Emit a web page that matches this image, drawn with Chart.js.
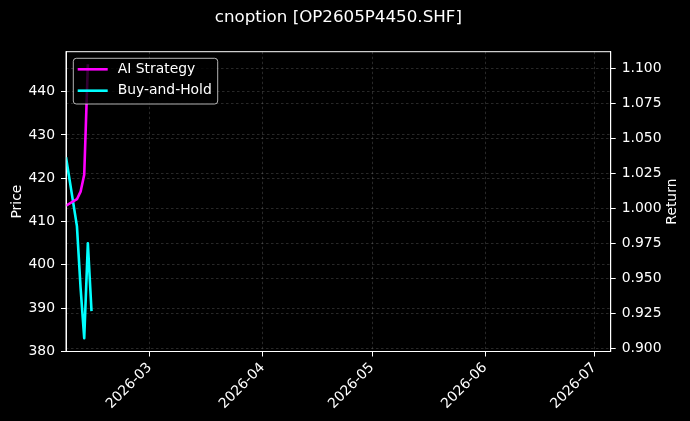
<!DOCTYPE html>
<html>
<head>
<meta charset="utf-8">
<script src="https://cdn.jsdelivr.net/npm/chart.js@4/dist/chart.umd.min.js"></script>
<style>
html,body{margin:0;padding:0;background:#000;}
canvas{display:block;}
</style>
</head>
<body>
<canvas id="c" width="690" height="421"></canvas>
<script>
// ---- data ----
const chartTitle = 'cnoption [OP2605P4450.SHF]';
const dates = ['2026-02-06','2026-02-09','2026-02-10','2026-02-11','2026-02-12','2026-02-13'];
const aiStrategy = [1.002, 1.0066, 1.012, 1.024, 1.103, null];
const buyAndHold = [1.0366, 0.9874, 0.9434, 0.9074, 0.9752, 0.9267];
const monthTickDates = ['2026-03-01','2026-04-01','2026-05-01','2026-06-01','2026-07-01'];
const priceRange = [380, 449.23];
const returnRange = [0.8979, 1.1119];
const xRange = ['2026-02-06T00:00:00Z','2026-07-05T12:00:00Z'];

const FONT = 'DejaVu Sans';
const fs = 13.9;
const gridColor = 'rgba(180,180,180,0.28)';

const toPts = (arr) => dates.map((d,i)=>({x: Date.parse(d), y: arr[i]}));
const fmtMonth = (v) => { const d = new Date(v); return d.getUTCFullYear() + '-' + String(d.getUTCMonth()+1).padStart(2,'0'); };

const decor = {
  id: 'decor',
  afterDatasetsDraw(chart) {
    const ctx = chart.ctx, a = chart.chartArea;
    ctx.save();
    // frame
    ctx.strokeStyle = '#fff'; ctx.lineWidth = 1;
    ctx.strokeRect(a.left, a.top, a.right - a.left, a.bottom - a.top);
    // legend
    const lx = a.left + 7.3, ly = a.top + 6.6, lw = 144.4, lh = 45.7, r = 3;
    ctx.beginPath();
    ctx.moveTo(lx + r, ly); ctx.lineTo(lx + lw - r, ly); ctx.arcTo(lx + lw, ly, lx + lw, ly + r, r);
    ctx.lineTo(lx + lw, ly + lh - r); ctx.arcTo(lx + lw, ly + lh, lx + lw - r, ly + lh, r);
    ctx.lineTo(lx + r, ly + lh); ctx.arcTo(lx, ly + lh, lx, ly + lh - r, r);
    ctx.lineTo(lx, ly + r); ctx.arcTo(lx, ly, lx + r, ly, r); ctx.closePath();
    ctx.fillStyle = 'rgba(0,0,0,0.8)'; ctx.fill();
    ctx.strokeStyle = 'rgba(210,210,210,0.85)'; ctx.lineWidth = 1; ctx.stroke();
    ctx.font = fs + 'px "' + FONT + '"';
    ctx.textBaseline = 'middle'; ctx.textAlign = 'left';
    chart.data.datasets.forEach((ds, i) => {
      const y = ly + 11 + i * 21.4;
      ctx.strokeStyle = ds.borderColor; ctx.lineWidth = ds.borderWidth;
      ctx.beginPath(); ctx.moveTo(lx + 4.4, y); ctx.lineTo(lx + 34.4, y); ctx.stroke();
      ctx.fillStyle = '#fff';
      ctx.fillText(ds.label, lx + 44.4, y);
    });
    // right axis title
    ctx.save();
    ctx.translate(672.5, (a.top + a.bottom) / 2);
    ctx.rotate(-Math.PI / 2);
    ctx.textAlign = 'center'; ctx.textBaseline = 'middle';
    ctx.fillStyle = '#fff';
    ctx.fillText('Return', 0, 0);
    ctx.restore();
    // title
    ctx.font = '16.7px "' + FONT + '"';
    ctx.textAlign = 'center'; ctx.textBaseline = 'middle';
    ctx.fillStyle = '#fff';
    ctx.fillText(chartTitle, (a.left + a.right) / 2, 18);
    ctx.restore();
  }
};

const tickFont = {family: FONT, size: fs};

new Chart(document.getElementById('c'), {
  type: 'line',
  data: {
    datasets: [
      {label: 'AI Strategy', data: toPts(aiStrategy), borderColor: '#ff00ff', borderWidth: 2.6, pointRadius: 0, yAxisID: 'y1', tension: 0, spanGaps: false, borderJoinStyle: 'round'},
      {label: 'Buy-and-Hold', data: toPts(buyAndHold), borderColor: '#00ffff', borderWidth: 2.6, pointRadius: 0, yAxisID: 'y1', tension: 0, borderJoinStyle: 'round'}
    ]
  },
  options: {
    responsive: false,
    animation: false,
    layout: {padding: {top: 51.7, left: 0, right: 0, bottom: 0}},
    plugins: {legend: {display: false}, title: {display: false}, tooltip: {enabled: false}},
    scales: {
      x: {
        type: 'linear', position: 'bottom',
        min: Date.parse(xRange[0]), max: Date.parse(xRange[1]),
        afterBuildTicks: (s) => { s.ticks = monthTickDates.map(d => ({value: Date.parse(d)})); },
        ticks: {color: '#fff', font: tickFont, minRotation: 45, maxRotation: 45, autoSkip: false, padding: 3,
                callback: (v) => fmtMonth(v)},
        grid: {color: gridColor, lineWidth: 0.8, tickColor: '#fff', tickLength: 5, tickWidth: 1},
        border: {color: '#fff', width: 1, dash: [2.5, 2.5]},
        afterFit: (s) => { s.height = 69.5; }
      },
      y: {
        position: 'left', min: priceRange[0], max: priceRange[1],
        ticks: {stepSize: 10, includeBounds: false, color: '#fff', font: tickFont, padding: 6},
        grid: {color: gridColor, lineWidth: 0.8, tickColor: '#fff', tickLength: 5, tickWidth: 1},
        border: {color: '#fff', width: 1, dash: [2.5, 2.5]},
        title: {display: true, text: 'Price', color: '#fff', font: tickFont, padding: {top: 9.5, bottom: 0}},
        afterFit: (s) => { s.width = 66; }
      },
      y1: {
        position: 'right', min: returnRange[0], max: returnRange[1],
        ticks: {stepSize: 0.025, includeBounds: false, color: '#fff', font: tickFont, padding: 6,
                callback: (v) => Number(v).toFixed(3)},
        grid: {color: gridColor, lineWidth: 0.8, tickColor: '#fff', tickLength: 5, tickWidth: 1, drawOnChartArea: true},
        border: {color: '#fff', width: 1, dash: [2.5, 2.5]},
        afterFit: (s) => { s.width = 79.3; }
      }
    }
  },
  plugins: [decor]
});
</script>
</body>
</html>
